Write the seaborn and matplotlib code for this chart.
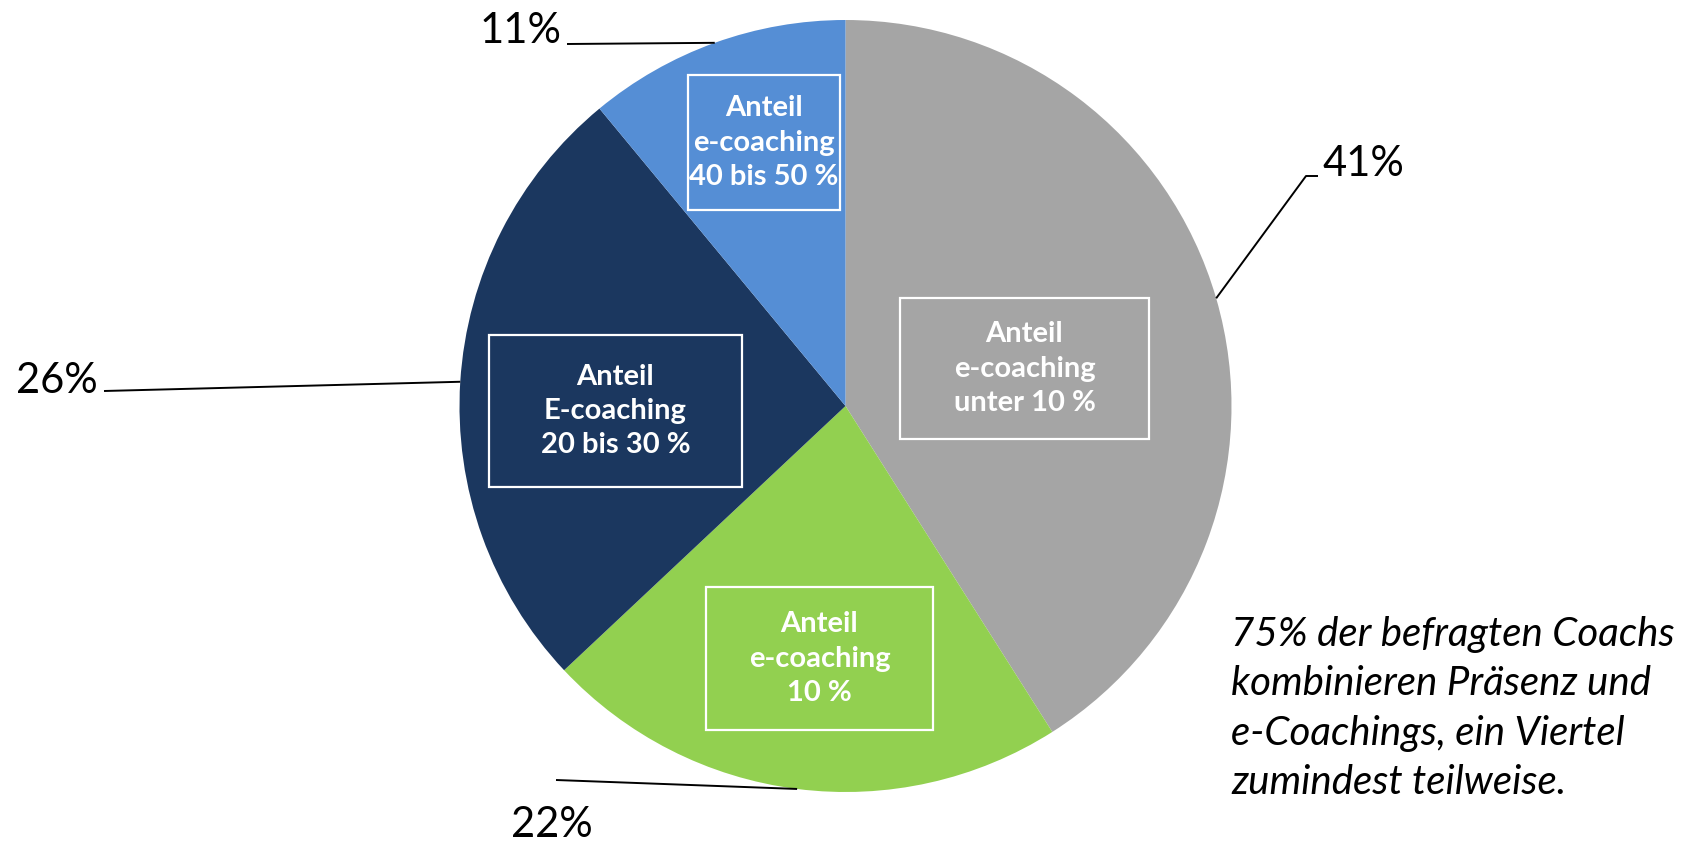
import matplotlib
matplotlib.use("Agg")
import matplotlib.pyplot as plt
import seaborn as sns
import numpy as np
from matplotlib.patches import Rectangle

# Survey shares by proportion of e-coaching in the coaches' work
shares = [41, 22, 26, 11]
share_labels = ["41%", "22%", "26%", "11%"]
segment_names = [
    "Anteil\ne-coaching\nunter 10 %",
    "Anteil\ne-coaching\n10 %",
    "Anteil\nE-coaching\n20 bis 30 %",
    "Anteil\ne-coaching\n40 bis 50 %",
]
colors = ["#A5A5A5", "#92D050", "#1B375F", "#558ED5"]
note = ("75% der befragten Coachs\nkombinieren Präsenz und\n"
        "e-Coachings, ein Viertel\nzumindest teilweise.")

sns.set_theme(style="white")
plt.rcParams["font.family"] = ["Lato", "DejaVu Sans"]

W, H = 1693, 842
fig = plt.figure(figsize=(W / 100, H / 100), dpi=100)
ax = fig.add_axes([0, 0, 1, 1])

cx, cy, r = 845.5, H - 406, 386
wedges, _ = ax.pie(shares, colors=colors, startangle=90, counterclock=False,
                   center=(cx, cy), radius=r, wedgeprops=dict(linewidth=0))
ax.set_xlim(0, W)
ax.set_ylim(0, H)
ax.set_aspect("equal")
ax.axis("off")

def edge_point(w):
    t = np.deg2rad((w.theta1 + w.theta2) / 2)
    return cx + r * np.cos(t), cy + r * np.sin(t)

# label boxes inside the slices (x0, y0_top, x1, y1_bottom) in pixel layout
boxes = [(900, 298, 1149, 439), (706, 587, 933, 730),
         (489, 335, 742, 487), (688, 75, 840, 210)]
for (x0, y0, x1, y1), name in zip(boxes, segment_names):
    ax.add_patch(Rectangle((x0, H - y1), x1 - x0, y1 - y0, fill=False,
                           ec="white", lw=1.6, zorder=3))
    ax.text((x0 + x1) / 2, H - (y0 + y1) / 2, name, color="white",
            fontsize=21, fontweight="bold", ha="center", va="center",
            multialignment="center", linespacing=1.4, zorder=4)

# percentage labels with leader lines
label_style = dict(fontsize=30, color="black")
line_kw = dict(color="black", lw=1.4, solid_capstyle="butt")

# 41%
ex, ey = edge_point(wedges[0])
ax.plot([ex, 1306, 1318], [ey, H - 176, H - 176], **line_kw)
ax.text(1322, H - 176, share_labels[0], ha="left", va="baseline", **label_style)

# 22%
ex, ey = edge_point(wedges[1])
ax.plot([ex, 556], [ey, H - 780], **line_kw)
ax.text(552, H - 837, share_labels[1], ha="center", va="baseline", **label_style)

# 26%
ex, ey = edge_point(wedges[2])
ax.plot([ex, 104], [ey, H - 391], **line_kw)
ax.text(98, H - 393, share_labels[2], ha="right", va="baseline", **label_style)

# 11%
ex, ey = edge_point(wedges[3])
ax.plot([ex, 567], [ey, H - 44], **line_kw)
ax.text(562, H - 43, share_labels[3], ha="right", va="baseline", **label_style)

ax.text(1231, H - 616, note, ha="left", va="top", fontsize=29,
        style="italic", linespacing=1.41, color="black")

fig.savefig("out.png", dpi=100)
